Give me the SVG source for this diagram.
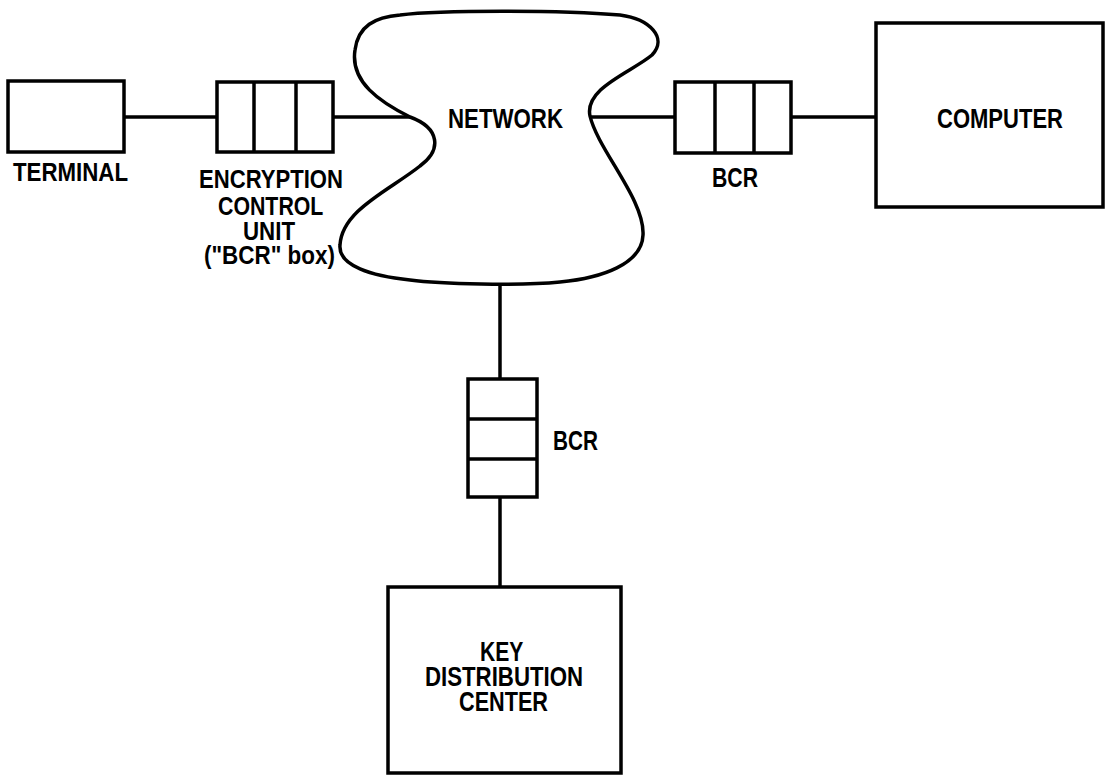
<svg xmlns="http://www.w3.org/2000/svg" width="1105" height="776" viewBox="0 0 1105 776">
  <style>
    .box { fill: none; stroke: #000; stroke-width: 3.5; }
    .div { fill: none; stroke: #000; stroke-width: 3.5; }
    .net { fill: none; stroke: #000; stroke-width: 3.5; stroke-linejoin: round; }
    .conn { fill: none; stroke: #000; stroke-width: 3.5; }
    .lbl { font-family: "Liberation Sans", Arial, sans-serif; font-weight: bold; fill: #000; }
  </style>
  <rect width="1105" height="776" fill="#fff"/>

  <g id="connectors">
    <line class="conn" x1="124" y1="117" x2="217" y2="117"/>
    <line class="conn" x1="333" y1="117" x2="410" y2="117"/>
    <line class="conn" x1="590" y1="117" x2="675" y2="117"/>
    <line class="conn" x1="791" y1="117" x2="876" y2="117"/>
    <line class="conn" x1="500" y1="285" x2="500" y2="379"/>
    <line class="conn" x1="500" y1="497" x2="500" y2="587"/>
  </g>

  <g id="terminal">
    <rect class="box" x="8" y="81" width="116" height="71"/>
    <text class="lbl" x="13" y="181" font-size="26" textLength="115" lengthAdjust="spacingAndGlyphs">TERMINAL</text>
  </g>

  <g id="encryption-control-unit">
    <rect class="box" x="217" y="82" width="116" height="70"/>
    <line class="div" x1="254" y1="82" x2="254" y2="152"/>
    <line class="div" x1="296" y1="82" x2="296" y2="152"/>
    <text class="lbl" font-size="26">
      <tspan x="199" y="188" textLength="144" lengthAdjust="spacingAndGlyphs">ENCRYPTION</tspan>
      <tspan x="218" y="215" textLength="105" lengthAdjust="spacingAndGlyphs">CONTROL</tspan>
      <tspan x="243" y="240" textLength="52" lengthAdjust="spacingAndGlyphs">UNIT</tspan>
      <tspan x="204" y="264" textLength="131" lengthAdjust="spacingAndGlyphs">("BCR" box)</tspan>
    </text>
  </g>

  <g id="network">
    <path class="net" d="M 400,15 C 440,10 560,10 620,15 C 650,19 668,38 652,55 C 632,72 584,88 590,116 C 598,150 645,200 643,235 C 642,264 602,278 560,282 C 520,286 440,284 410,280 C 372,276 338,266 340,245 C 342,210 390,190 420,166 C 442,150 440,128 410,117 C 380,102 350,82 355,50 C 358,26 375,17 400,15 Z"/>
    <text class="lbl" x="448" y="128" font-size="28" textLength="115" lengthAdjust="spacingAndGlyphs">NETWORK</text>
  </g>

  <g id="bcr-computer">
    <rect class="box" x="675" y="82" width="116" height="71"/>
    <line class="div" x1="715" y1="82" x2="715" y2="153"/>
    <line class="div" x1="754" y1="82" x2="754" y2="153"/>
    <text class="lbl" x="712" y="187" font-size="27" textLength="46" lengthAdjust="spacingAndGlyphs">BCR</text>
  </g>

  <g id="computer">
    <rect class="box" x="876" y="23" width="227" height="184"/>
    <text class="lbl" x="937" y="128" font-size="27" textLength="126" lengthAdjust="spacingAndGlyphs">COMPUTER</text>
  </g>

  <g id="bcr-kdc">
    <rect class="box" x="468" y="379" width="69" height="118"/>
    <line class="div" x1="468" y1="419" x2="537" y2="419"/>
    <line class="div" x1="468" y1="459" x2="537" y2="459"/>
    <text class="lbl" x="553" y="450" font-size="28" textLength="45" lengthAdjust="spacingAndGlyphs">BCR</text>
  </g>

  <g id="key-distribution-center">
    <rect class="box" x="388" y="587" width="233" height="186"/>
    <text class="lbl" font-size="28">
      <tspan x="480" y="661" textLength="43" lengthAdjust="spacingAndGlyphs">KEY</tspan>
      <tspan x="425" y="686" textLength="158" lengthAdjust="spacingAndGlyphs">DISTRIBUTION</tspan>
      <tspan x="459" y="711" textLength="89" lengthAdjust="spacingAndGlyphs">CENTER</tspan>
    </text>
  </g>
</svg>
